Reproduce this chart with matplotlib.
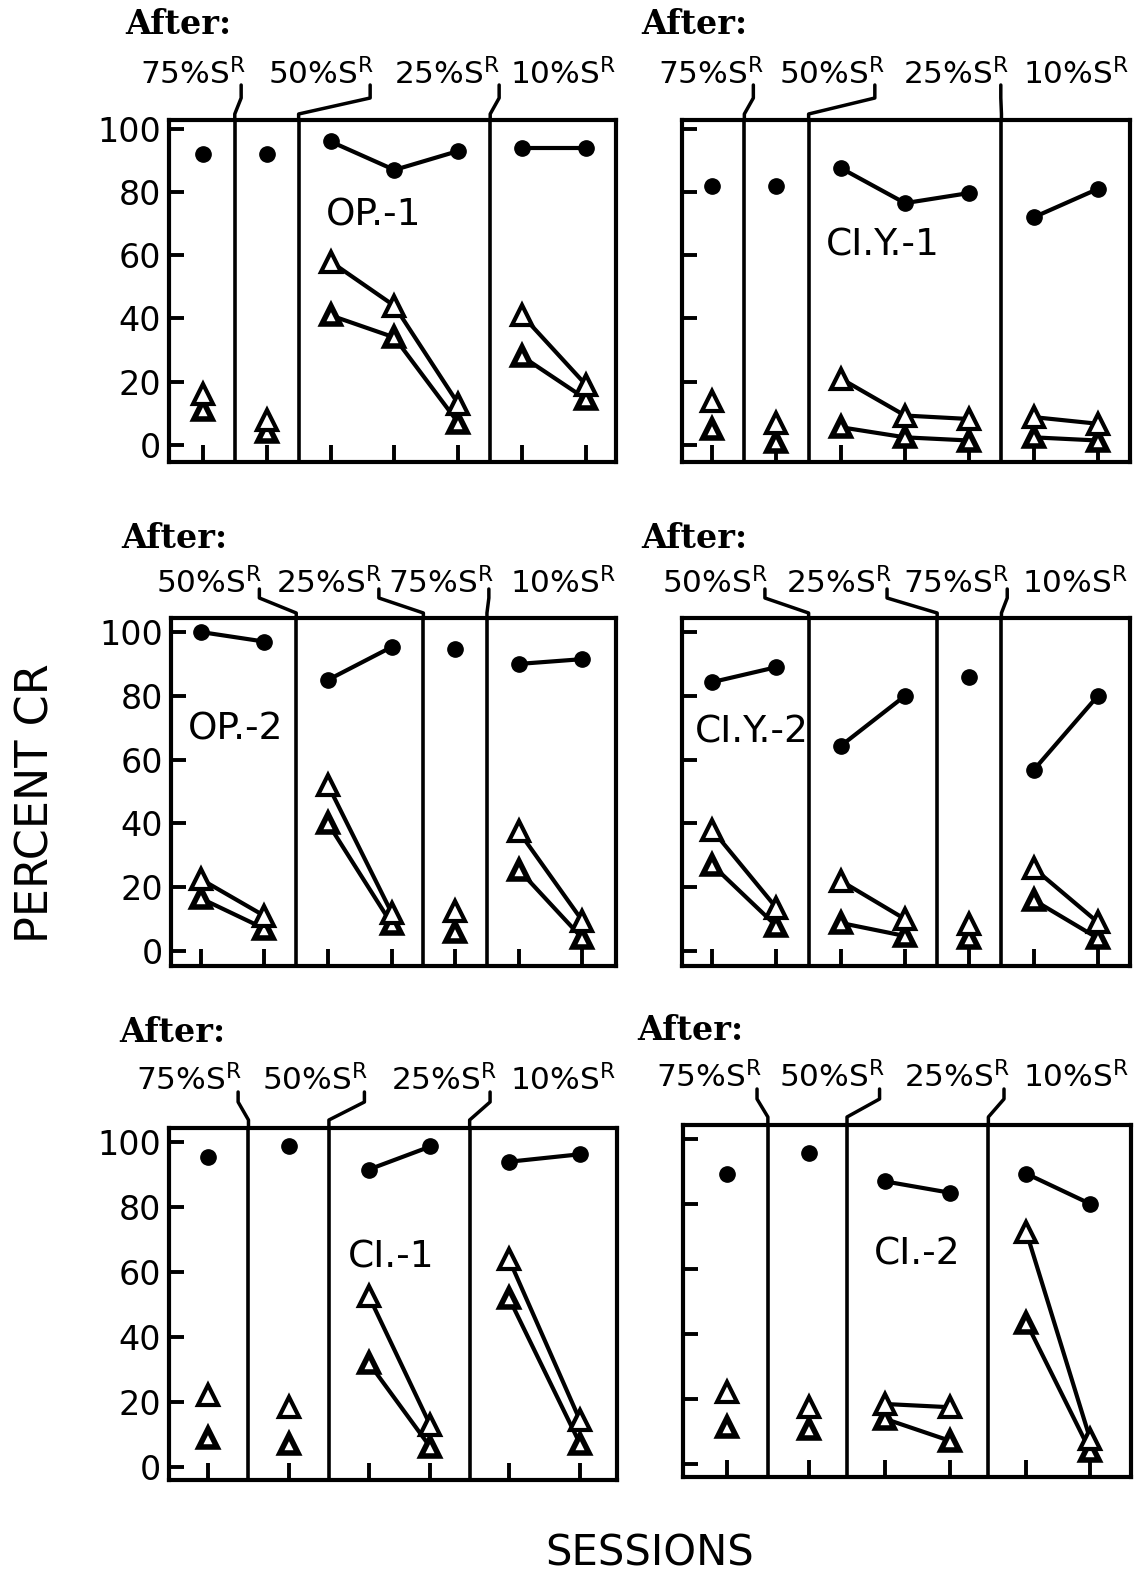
import matplotlib
matplotlib.use("Agg")
import matplotlib.pyplot as plt
from matplotlib import transforms

plt.rcParams["font.family"] = ["DejaVu Sans"]
plt.rcParams["mathtext.fontset"] = "dejavusans"

# ------------------------------------------------------------------ data
# OP.-1  (top left)   order: 75%, 50%, 25%, 10%
op1_sessions = [1, 2, 3, 4, 5, 6, 7]
op1_blocks = [[0], [1], [2, 3, 4], [5, 6]]
op1_conditions = ["75%", "50%", "25%", "10%"]
op1_dots = [92, 92, 96, 87, 93, 94, 94]
op1_tri_a = [16, 8, 58, 44, 13, 41, 19]
op1_tri_b = [11, 4, 41, 34, 7, 28, 14.5]

# CI.Y.-1  (top right)
ciy1_sessions = [1, 2, 3, 4, 5, 6, 7]
ciy1_blocks = [[0], [1], [2, 3, 4], [5, 6]]
ciy1_conditions = ["75%", "50%", "25%", "10%"]
ciy1_dots = [82, 82, 87.6, 76.5, 79.7, 72, 81]
ciy1_tri_a = [14, 7, 21, 9.3, 8.2, 8.8, 6.7]
ciy1_tri_b = [5, 1, 5.6, 2.4, 1.4, 2.4, 1.4]

# OP.-2  (middle left)   order: 50%, 25%, 75%, 10%
op2_sessions = [1, 2, 3, 4, 5, 6, 7]
op2_blocks = [[0, 1], [2, 3], [4], [5, 6]]
op2_conditions = ["50%", "25%", "75%", "10%"]
op2_dots = [100, 97, 85, 95.3, 94.7, 90, 91.5]
op2_tri_a = [22.5, 11, 52, 12, 12.6, 37.5, 9.5]
op2_tri_b = [16.5, 7, 40, 8.5, 6, 25.5, 4]

# CI.Y.-2  (middle right)
ciy2_sessions = [1, 2, 3, 4, 5, 6, 7]
ciy2_blocks = [[0, 1], [2, 3], [4], [5, 6]]
ciy2_conditions = ["50%", "25%", "75%", "10%"]
ciy2_dots = [84.3, 89, 64.3, 80, 86, 56.7, 80]
ciy2_tri_a = [38, 13.5, 22, 10, 8.5, 26, 9]
ciy2_tri_b = [27, 7.8, 8.8, 4.7, 4, 16, 4]

# CI.-1  (bottom left)   order: 75%, 50%, 25%, 10%
ci1_sessions = [1, 2.29, 3.56, 4.54, 5.79, 6.92]
ci1_blocks = [[0], [1], [2, 3], [4, 5]]
ci1_conditions = ["75%", "50%", "25%", "10%"]
ci1_dots = [95.5, 98.7, 91.6, 98.7, 94, 96.3]
ci1_tri_a = [22, 18.4, 52.6, 12.7, 64, 14.3]
ci1_tri_b = [8.7, 7.1, 32, 6, 52, 7.1]

# CI.-2  (bottom right)
ci2_sessions = [1, 2.28, 3.48, 4.5, 5.69, 6.69]
ci2_blocks = [[0], [1], [2, 3], [4, 5]]
ci2_conditions = ["75%", "50%", "25%", "10%"]
ci2_dots = [89.4, 95.7, 87, 83.5, 89.4, 80.1]
ci2_tri_a = [22, 17.4, 18.4, 17.4, 71.4, 7.6]
ci2_tri_b = [11.2, 10.7, 13.8, 7, 43.5, 3.9]

y_ticks = [0, 20, 40, 60, 80, 100]
y_ticklabels = ["0", "20", "40", "60", "80", "100"]

# ------------------------------------------------------------------ layout
W, H = 1138, 1578
fig = plt.figure(figsize=(W / 100, H / 100), dpi=100)
fig.patch.set_facecolor("white")

# header offsets (pixels above the box top): After, label baseline, conn top, upper bend, lower bend
row_offsets = {
    "top": (96, 36, 35, 22, 6),
    "mid": (80, 25, 29, 20, 5),
    "bot": (95, 38, 36, 26, 8),
}

panels = [
    dict(name="OP.-1", s=op1_sessions, b=op1_blocks, c=op1_conditions, d=op1_dots,
         ta=op1_tri_a, tb=op1_tri_b, rect=(169, 120, 616, 462), ylim=(-5.4, 102.8),
         xlim=(0.47, 7.47), row="top", lab_r=[1.68, 3.68, 5.66, 7.47],
         conn=[1.60, 3.62, 5.64], after_x=-0.21, name_xy=(3.68, 72.5), left=True),
    dict(name="CI.Y.-1", s=ciy1_sessions, b=ciy1_blocks, c=ciy1_conditions, d=ciy1_dots,
         ta=ciy1_tri_a, tb=ciy1_tri_b, rect=(682, 120, 1130, 462), ylim=(-5.4, 102.8),
         xlim=(0.53, 7.5), row="top", lab_r=[1.80, 3.69, 5.62, 7.49],
         conn=[1.64, 3.53, 5.49], after_x=-0.10, name_xy=(3.66, 63), left=False),
    dict(name="OP.-2", s=op2_sessions, b=op2_blocks, c=op2_conditions, d=op2_dots,
         ta=op2_tri_a, tb=op2_tri_b, rect=(171, 618, 616, 966), ylim=(-4.7, 104.4),
         xlim=(0.53, 7.53), row="mid", lab_r=[1.97, 3.85, 5.62, 7.53],
         conn=[1.92, 3.80, 5.53], after_x=-0.25, name_xy=(1.55, 69.6), left=True),
    dict(name="CI.Y.-2", s=ciy2_sessions, b=ciy2_blocks, c=ciy2_conditions, d=ciy2_dots,
         ta=ciy2_tri_a, tb=ciy2_tri_b, rect=(682, 618, 1130, 966), ylim=(-4.7, 104.4),
         xlim=(0.53, 7.5), row="mid", lab_r=[1.87, 3.80, 5.62, 7.47],
         conn=[1.82, 3.72, 5.59], after_x=-0.10, name_xy=(1.62, 68.6), left=False),
    dict(name="CI.-1", s=ci1_sessions, b=ci1_blocks, c=ci1_conditions, d=ci1_dots,
         ta=ci1_tri_a, tb=ci1_tri_b, rect=(169, 1128, 617, 1480), ylim=(-4.1, 104.4),
         xlim=(0.38, 7.51), row="bot", lab_r=[1.55, 3.55, 5.60, 7.50],
         conn=[1.48, 3.49, 5.49], after_x=-0.41, name_xy=(3.92, 64.6), left=True),
    dict(name="CI.-2", s=ci2_sessions, b=ci2_blocks, c=ci2_conditions, d=ci2_dots,
         ta=ci2_tri_a, tb=ci2_tri_b, rect=(683, 1125, 1131, 1477), ylim=(-4.1, 104.4),
         xlim=(0.31, 7.33), row="bot", lab_r=[1.55, 3.47, 5.44, 7.30],
         conn=[1.47, 3.39, 5.34], after_x=-0.41, name_xy=(3.98, 64.6), left=False),
]

LW = 3.0
for p in panels:
    l, t, r, b = p["rect"]
    ax = fig.add_axes([l / W, 1 - b / H, (r - l) / W, (b - t) / H])
    hpx = b - t
    ax.set_xlim(*p["xlim"])
    ax.set_ylim(*p["ylim"])
    for sp in ax.spines.values():
        sp.set_linewidth(3.0)
    ax.set_yticks(y_ticks)
    ax.set_yticklabels(y_ticklabels if p["left"] else [])
    ax.set_xticks(p["s"])
    ax.set_xticklabels([])
    ax.tick_params(axis="y", direction="in", length=11, width=2.8, labelsize=24, pad=6)
    ax.tick_params(axis="x", direction="in", length=12, width=2.8)

    s = p["s"]
    blocks = p["b"]
    # dividers between conditions
    for k in range(len(blocks) - 1):
        dv = (s[blocks[k][-1]] + s[blocks[k + 1][0]]) / 2
        ax.axvline(dv, color="k", lw=2.6, zorder=2)

    for blk in blocks:
        xs = [s[i] for i in blk]
        ax.plot(xs, [p["d"][i] for i in blk], "-", color="k", lw=LW,
                marker="o", ms=11, mfc="k", mec="k", zorder=4, clip_on=False)
        ax.plot(xs, [p["tb"][i] for i in blk], "-", color="k", lw=LW,
                marker="^", ms=13.5, mfc="white", mec="k", mew=4.0, zorder=5, clip_on=False)
        ax.plot(xs, [p["ta"][i] for i in blk], "-", color="k", lw=LW,
                marker="^", ms=14.5, mfc="white", mec="k", mew=3.0, zorder=6, clip_on=False)

    ax.text(p["name_xy"][0], p["name_xy"][1], p["name"], fontsize=27,
            ha="center", va="center", zorder=7)

    # header
    a_off, base_off, c_top, bend_hi, bend_lo = row_offsets[p["row"]]
    blend = transforms.blended_transform_factory(ax.transData, ax.transAxes)
    ax.text(p["after_x"], 1 + a_off / hpx, "After:", transform=blend,
            family="DejaVu Serif", fontweight="bold", fontsize=24,
            ha="left", va="center")
    for cond, xr in zip(p["c"], p["lab_r"]):
        ax.text(xr, 1 + base_off / hpx, cond + r"S$^{\mathregular{R}}$", transform=blend,
                fontsize=22.5, ha="right", va="baseline")
    for k, xc in enumerate(p["conn"]):
        dv = (s[blocks[k][-1]] + s[blocks[k + 1][0]]) / 2
        ax.plot([dv, dv, xc, xc],
                [1.0, 1 + bend_lo / hpx, 1 + bend_hi / hpx, 1 + c_top / hpx],
                color="k", lw=2.5, transform=blend, clip_on=False,
                solid_joinstyle="round", solid_capstyle="round")

fig.text(36 / W, 1 - 803 / H, "PERCENT CR", rotation=90, fontsize=32,
         ha="center", va="center")
fig.text(650 / W, 1 - 1553 / H, "SESSIONS", fontsize=30, ha="center", va="center")

fig.savefig("out.png", dpi=100, facecolor="white")
